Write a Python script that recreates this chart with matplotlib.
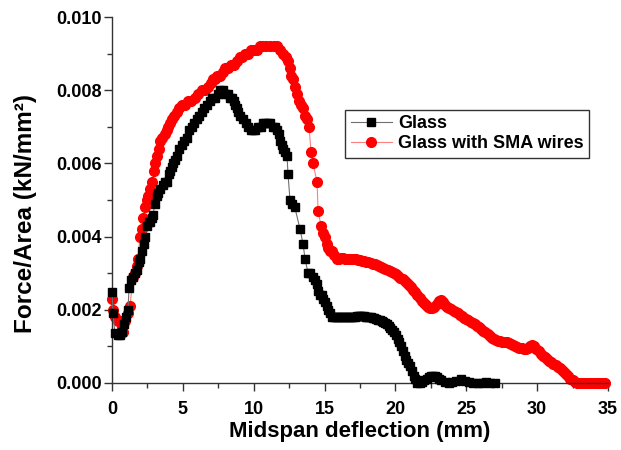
# Force/Area vs midspan deflection - Glass and Glass with SMA wires

import numpy as np
import matplotlib
matplotlib.use("Agg")
import matplotlib.pyplot as plt
from matplotlib.ticker import MultipleLocator

plt.rcParams["font.family"] = ["Liberation Sans", "DejaVu Sans"]
plt.rcParams["font.weight"] = "bold"

# ----------------------------
# Data (x: mm, y: kN/mm^2)
# ----------------------------

glass_pts = [
    (0.0, 0.00249), (0.07, 0.0019), (0.2, 0.00137), (0.4, 0.0013), (0.56, 0.0013),
    (0.7, 0.0014), (0.85, 0.0016), (1.0, 0.0018), (1.13, 0.0020), (1.2, 0.0026),
    (1.35, 0.0028), (1.48, 0.0029), (1.62, 0.0030), (1.76, 0.0031), (1.9, 0.0033),
    (1.98, 0.0034), (2.12, 0.0036), (2.25, 0.0038), (2.33, 0.0040), (2.47, 0.0043),
    (2.6, 0.0044), (2.68, 0.0044), (2.8, 0.0045), (2.89, 0.0046), (3.03, 0.0049),
    (3.15, 0.0051), (3.25, 0.0052), (3.4, 0.0053), (3.6, 0.0054), (3.75, 0.0055),
    (3.88, 0.0055), (4.0, 0.0057), (4.09, 0.0058), (4.2, 0.0059), (4.3, 0.0060),
    (4.45, 0.0061), (4.59, 0.0062), (4.75, 0.0064), (4.94, 0.0065), (5.1, 0.0066),
    (5.29, 0.0067), (5.45, 0.0069), (5.65, 0.0070), (5.8, 0.0071), (6.0, 0.0072),
    (6.15, 0.0073), (6.35, 0.0074), (6.5, 0.0075), (6.7, 0.0076), (6.88, 0.0077),
    (7.06, 0.0078), (7.25, 0.0078), (7.48, 0.0079), (7.65, 0.0080), (7.83, 0.0080),
    (8.0, 0.0079), (8.19, 0.0079), (8.35, 0.0078), (8.47, 0.0078), (8.58, 0.0077),
    (8.68, 0.0076), (8.8, 0.0075), (8.89, 0.0074), (9.05, 0.0073), (9.25, 0.0072),
    (9.42, 0.0071), (9.6, 0.0070), (9.78, 0.0069), (9.95, 0.0069), (10.12, 0.0069),
    (10.3, 0.0070), (10.48, 0.0070), (10.66, 0.0071), (10.83, 0.0071), (11.0, 0.0071),
    (11.18, 0.0071), (11.36, 0.0070), (11.5, 0.0070), (11.64, 0.0069), (11.75, 0.0068),
    (11.86, 0.0066), (11.97, 0.0065), (12.07, 0.0064), (12.2, 0.0063), (12.35, 0.0062),
    (12.42, 0.0057), (12.56, 0.0050), (12.7, 0.0049), (12.9, 0.0048), (13.27, 0.0042),
    (13.48, 0.0038), (13.62, 0.0034), (13.83, 0.0030), (14.0, 0.0030), (14.18, 0.0029),
    (14.35, 0.0028), (14.47, 0.0027), (14.54, 0.0025), (14.68, 0.0024), (14.82, 0.0024),
    (14.92, 0.0023), (15.03, 0.0022), (15.14, 0.0021), (15.24, 0.0020), (15.38, 0.0019),
    (15.52, 0.0018), (15.65, 0.00179), (15.78, 0.00179), (15.9, 0.0018), (16.02, 0.0018),
    (16.15, 0.0018), (16.28, 0.0018), (16.4, 0.0018), (16.52, 0.0018), (16.65, 0.0018),
    (16.78, 0.0018), (16.9, 0.0018), (17.02, 0.00181), (17.15, 0.00181), (17.28, 0.00182),
    (17.4, 0.00182), (17.52, 0.00182), (17.65, 0.00182), (17.78, 0.00182), (17.9, 0.00181),
    (18.02, 0.0018), (18.15, 0.0018), (18.28, 0.00179), (18.4, 0.00178), (18.52, 0.00177),
    (18.65, 0.00175), (18.78, 0.00173), (18.9, 0.00171), (19.02, 0.00169), (19.15, 0.00166),
    (19.28, 0.00163), (19.4, 0.0016), (19.52, 0.00156), (19.65, 0.00151), (19.78, 0.00145),
    (19.9, 0.00138), (20.02, 0.0013), (20.15, 0.00121), (20.28, 0.00112), (20.4, 0.0010),
    (20.52, 0.00088), (20.65, 0.00075), (20.78, 0.00064), (20.9, 0.00055), (21.02, 0.00045),
    (21.15, 0.00033), (21.28, 0.0002), (21.4, 0.0001), (21.5, 0.0), (21.7, 0.0),
    (21.9, 0.00003), (22.05, 0.00007), (22.2, 0.00012), (22.35, 0.00016), (22.5, 0.00019),
    (22.65, 0.0002), (22.8, 0.0002), (22.95, 0.00017), (23.1, 0.00012), (23.25, 0.00007),
    (23.5, 0.00003), (23.8, 0.0), (24.0, 0.00002), (24.3, 0.00006), (24.6, 0.0001),
    (24.9, 0.00006), (25.2, 0.00002), (25.5, 0.0), (25.8, 0.0), (26.1, 0.0),
    (26.4, 0.00002), (26.7, 0.0), (27.0, 0.0),
]

sma_pts = [
    (0.0, 0.0023), (0.1, 0.0020), (0.21, 0.0018), (0.4, 0.0017), (0.56, 0.0017),
    (0.7, 0.0015), (0.78, 0.0014), (0.92, 0.0017), (1.1, 0.0019), (1.27, 0.0021),
    (1.48, 0.0029), (1.62, 0.0030), (1.76, 0.0032), (1.83, 0.0034), (1.98, 0.0040),
    (2.1, 0.0042), (2.19, 0.0045), (2.33, 0.0048), (2.45, 0.0050), (2.54, 0.0051),
    (2.7, 0.0053), (2.82, 0.0055), (2.95, 0.0058), (3.03, 0.0060), (3.18, 0.0062),
    (3.3, 0.0064), (3.39, 0.0066), (3.55, 0.0067), (3.74, 0.0068), (3.85, 0.0069),
    (3.95, 0.0070), (4.1, 0.0071), (4.23, 0.0072), (4.4, 0.0073), (4.59, 0.0074),
    (4.75, 0.0075), (4.94, 0.0076), (5.15, 0.0076), (5.36, 0.0077), (5.6, 0.0077),
    (5.86, 0.0078), (6.1, 0.0079), (6.35, 0.0080), (6.55, 0.0080), (6.77, 0.0081),
    (6.95, 0.0082), (7.13, 0.0083), (7.3, 0.0083), (7.41, 0.0084), (7.6, 0.0084),
    (7.8, 0.0085), (8.0, 0.0086), (8.2, 0.0086), (8.4, 0.0087), (8.6, 0.0087),
    (8.8, 0.0088), (9.0, 0.0089), (9.2, 0.0089), (9.4, 0.0090), (9.6, 0.0090),
    (9.8, 0.0091), (10.0, 0.0091), (10.2, 0.0091), (10.44, 0.0092), (10.65, 0.0092),
    (10.9, 0.0092), (11.15, 0.0092), (11.4, 0.0092), (11.64, 0.0092), (11.85, 0.0091),
    (12.07, 0.0090), (12.25, 0.0089), (12.42, 0.0088), (12.56, 0.0086), (12.65, 0.0084),
    (12.77, 0.0083), (12.9, 0.0081), (13.06, 0.0079), (13.2, 0.0077), (13.35, 0.0076),
    (13.48, 0.0075), (13.62, 0.0073), (13.76, 0.0072), (13.9, 0.0070), (14.05, 0.0063),
    (14.18, 0.0060), (14.47, 0.0055), (14.54, 0.0047), (14.75, 0.0043), (14.9, 0.0041),
    (15.03, 0.0040), (15.15, 0.0038), (15.24, 0.0037), (15.4, 0.0036), (15.52, 0.0036),
    (15.7, 0.0035), (15.88, 0.0034), (16.0, 0.0034), (16.15, 0.00342), (16.3, 0.00342),
    (16.45, 0.0034), (16.6, 0.0034), (16.75, 0.0034), (16.9, 0.0034), (17.05, 0.00338),
    (17.2, 0.00338), (17.35, 0.00336), (17.5, 0.00335), (17.65, 0.00333), (17.8, 0.00332),
    (17.95, 0.0033), (18.1, 0.0033), (18.25, 0.00328), (18.4, 0.00326), (18.55, 0.00324),
    (18.7, 0.00322), (18.85, 0.0032), (19.0, 0.00318), (19.15, 0.00315), (19.3, 0.00312),
    (19.45, 0.0031), (19.6, 0.00307), (19.75, 0.00304), (19.9, 0.0030), (20.05, 0.00297),
    (20.2, 0.00293), (20.35, 0.00288), (20.5, 0.00283), (20.65, 0.00278), (20.8, 0.00273),
    (20.95, 0.00267), (21.1, 0.00262), (21.25, 0.00255), (21.4, 0.00248), (21.55, 0.0024),
    (21.7, 0.00232), (21.85, 0.00225), (22.0, 0.00218), (22.15, 0.00212), (22.3, 0.00208),
    (22.45, 0.00205), (22.6, 0.00205), (22.75, 0.00208), (22.9, 0.00215), (23.05, 0.00225),
    (23.2, 0.00228), (23.35, 0.00222), (23.5, 0.00212), (23.65, 0.00207), (23.8, 0.00204),
    (23.95, 0.00201), (24.1, 0.00197), (24.25, 0.00193), (24.4, 0.0019), (24.55, 0.00186),
    (24.7, 0.00182), (24.85, 0.00178), (25.0, 0.00175), (25.15, 0.00171), (25.3, 0.00167),
    (25.45, 0.00164), (25.6, 0.0016), (25.75, 0.00156), (25.9, 0.00153), (26.05, 0.00148),
    (26.2, 0.00143), (26.35, 0.00138), (26.5, 0.00133), (26.65, 0.00128), (26.8, 0.00124),
    (26.95, 0.00121), (27.1, 0.00118), (27.25, 0.00116), (27.4, 0.00114), (27.55, 0.00113),
    (27.7, 0.00112), (27.85, 0.00111), (28.0, 0.0011), (28.15, 0.00107), (28.3, 0.00104),
    (28.45, 0.00101), (28.6, 0.00098), (28.75, 0.00096), (28.9, 0.00095), (29.05, 0.00094),
    (29.2, 0.00094), (29.35, 0.00096), (29.5, 0.0010), (29.65, 0.00103), (29.8, 0.00101),
    (29.95, 0.00094), (30.1, 0.00086), (30.25, 0.0008), (30.4, 0.00075), (30.55, 0.0007),
    (30.7, 0.00066), (30.85, 0.00061), (31.0, 0.00057), (31.15, 0.00052), (31.3, 0.00048),
    (31.45, 0.00044), (31.6, 0.0004), (31.75, 0.00035), (31.9, 0.0003), (32.05, 0.00024),
    (32.2, 0.00018), (32.35, 0.00012), (32.5, 0.00007), (32.65, 0.00002), (32.8, 0.0),
    (33.0, 0.0), (33.2, 0.0), (33.4, 0.0), (33.6, 0.0), (33.8, 0.0),
    (34.0, 0.0), (34.2, 0.0), (34.4, 0.0), (34.6, 0.0), (34.8, 0.0),
]

glass_x, glass_y = np.array(glass_pts).T
sma_x, sma_y = np.array(sma_pts).T

# ----------------------------
# Plot
# ----------------------------

fig = plt.figure(figsize=(6.21, 4.5), dpi=100)
ax = fig.add_axes([0.1804, 0.149, 0.7986, 0.8132])

ax.plot(glass_x, glass_y, color="#707070", linewidth=0.8,
        marker="s", markersize=5.5, markerfacecolor="black",
        markeredgecolor="black", label="Glass", clip_on=False, zorder=3)
ax.plot(sma_x, sma_y, color="#ff8080", linewidth=0.8,
        marker="o", markersize=7, markerfacecolor="red",
        markeredgecolor="red", label="Glass with SMA wires", clip_on=False, zorder=2)

ax.set_xlim(0, 35)
ax.set_ylim(0, 0.010)
ax.xaxis.set_major_locator(MultipleLocator(5))
ax.xaxis.set_minor_locator(MultipleLocator(2.5))
ax.yaxis.set_major_locator(MultipleLocator(0.002))
ax.yaxis.set_minor_locator(MultipleLocator(0.001))
ax.yaxis.set_major_formatter(plt.FormatStrFormatter("%.3f"))

for side in ["top", "right"]:
    ax.spines[side].set_visible(False)
for side in ["left", "bottom"]:
    ax.spines[side].set_color("#333333")
    ax.spines[side].set_linewidth(1.0)

ax.tick_params(which="major", direction="out", length=5.8, width=1,
               labelsize=13, color="#333333")
ax.tick_params(which="minor", direction="out", length=3.6, width=1, color="#333333")
ax.tick_params(axis="x", which="major", pad=7)
ax.tick_params(axis="y", which="major", pad=1.5)
for lab in ax.get_xticklabels() + ax.get_yticklabels():
    lab.set_fontweight("bold")

ax.set_xlabel("Midspan deflection (mm)", fontsize=16, fontweight="bold", labelpad=2)
ax.set_ylabel("Force/Area (kN/mm²)", fontsize=17.5, fontweight="bold")
ax.yaxis.set_label_coords(-0.151, 0.462)

leg = ax.legend(loc="upper left", bbox_to_anchor=(0.47, 0.746),
                frameon=True, fancybox=False, borderpad=0.3, labelspacing=0.15,
                handlelength=2.3, handletextpad=0.35, borderaxespad=0,
                prop={"weight": "bold", "size": 13})
leg.get_frame().set_edgecolor("black")
leg.get_frame().set_linewidth(1.0)

fig.savefig("out.png", dpi=100)
